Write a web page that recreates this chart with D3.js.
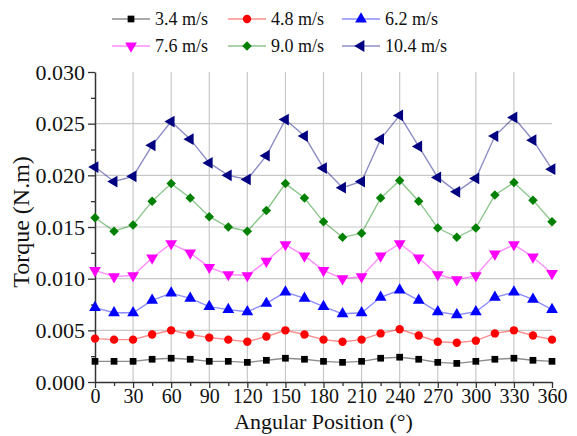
<!DOCTYPE html>
<html>
<head>
<meta charset="utf-8">
<script src="https://cdn.jsdelivr.net/npm/d3@7"></script>
<style>
  body { margin: 0; background: #fff; }
  #vis text { font-family: 'Liberation Serif', 'Times New Roman', Times, serif !important; }
</style>
</head>
<body>
<svg id="vis" width="577" height="436"></svg>
<script>
const FONT = "'Liberation Serif', 'Times New Roman', Times, serif";
const angles = d3.range(0, 361, 15);

const speeds = ['3.4 m/s', '4.8 m/s', '6.2 m/s', '7.6 m/s', '9.0 m/s', '10.4 m/s'];

const torque34 = [0.0020, 0.0020, 0.0020, 0.0022, 0.0023, 0.0022, 0.0020, 0.0020, 0.0019, 0.0021, 0.0023, 0.0022, 0.0020,
    0.0019, 0.0020, 0.0023, 0.0024, 0.0022, 0.0019, 0.0018, 0.0020, 0.0022, 0.0023, 0.0021, 0.0020];
const torque48 = [0.0042, 0.0041, 0.0041, 0.0046, 0.0050, 0.0046, 0.0043, 0.0041, 0.0039, 0.0044, 0.0050, 0.0046, 0.0041,
    0.0039, 0.0041, 0.0047, 0.0051, 0.0045, 0.0039, 0.0038, 0.0040, 0.0047, 0.0050, 0.0045, 0.0041];
const torque62 = [0.0072, 0.0067, 0.0067, 0.0079, 0.0086, 0.0081, 0.0073, 0.0070, 0.0068, 0.0076, 0.0087, 0.0081, 0.0073,
    0.0066, 0.0067, 0.0082, 0.0089, 0.0079, 0.0068, 0.0065, 0.0068, 0.0082, 0.0087, 0.0080, 0.0070];
const torque76 = [0.0108, 0.0102, 0.0103, 0.0120, 0.0134, 0.0125, 0.0111, 0.0104, 0.0103, 0.0117, 0.0133, 0.0122, 0.0108,
    0.0100, 0.0102, 0.0122, 0.0134, 0.0120, 0.0104, 0.0099, 0.0103, 0.0124, 0.0133, 0.0121, 0.0105];
const torque90 = [0.0159, 0.0146, 0.0152, 0.0175, 0.0192, 0.0178, 0.0160, 0.0150, 0.0146, 0.0166, 0.0192, 0.0178, 0.0155,
    0.0140, 0.0144, 0.0178, 0.0195, 0.0175, 0.0149, 0.0140, 0.0149, 0.0181, 0.0193, 0.0176, 0.0155];
const torque104 = [0.0208, 0.0194, 0.0199, 0.0229, 0.0252, 0.0235, 0.0212, 0.0200, 0.0196, 0.0219, 0.0254, 0.0238, 0.0207,
    0.0188, 0.0194, 0.0235, 0.0258, 0.0228, 0.0198, 0.0184, 0.0197, 0.0238, 0.0256, 0.0234, 0.0206];

const xTicks = d3.range(0, 361, 30);
const yTicks = [0, 0.005, 0.010, 0.015, 0.020, 0.025, 0.030];

const series = [
    {name: speeds[0], values: torque34, colour: '#000000', shape: d3.symbolSquare, rot: 0},
    {name: speeds[1], values: torque48, colour: '#ff0000', shape: d3.symbolCircle, rot: 0},
    {name: speeds[2], values: torque62, colour: '#0000ff', shape: d3.symbolTriangle, rot: 0},
    {name: speeds[3], values: torque76, colour: '#ff00ff', shape: d3.symbolTriangle, rot: 180},
    {name: speeds[4], values: torque90, colour: '#008000', shape: d3.symbolSquare, rot: 45},
    {name: speeds[5], values: torque104, colour: '#000080', shape: d3.symbolTriangle, rot: -90}
];

const svg = d3.select('#vis');
const plotLeft = 95, plotRight = 552, plotTop = 72, plotBottom = 382;

const x = d3.scaleLinear().domain([0, 360]).range([plotLeft, plotRight]);
const y = d3.scaleLinear().domain([0, 0.030]).range([plotBottom, plotTop]);

// grid (no line on the top edge)
const grid = svg.append('g');
grid.selectAll('line.v').data(xTicks.slice(1, -1)).join('line')
    .attr('x1', d => x(d)).attr('x2', d => x(d))
    .attr('y1', plotTop).attr('y2', plotBottom)
    .attr('stroke', '#c8c8c8').attr('stroke-width', 1.2);
grid.selectAll('line.h').data(yTicks.slice(1, -1)).join('line')
    .attr('x1', plotLeft).attr('x2', plotRight)
    .attr('y1', d => y(d)).attr('y2', d => y(d))
    .attr('stroke', '#c8c8c8').attr('stroke-width', 1.2);

// axes
function styleAxis(g, size) {
    g.attr('font-family', null).attr('font-size', size);
    g.select('.domain').attr('stroke', '#333').attr('stroke-width', 1.5);
    g.selectAll('.tick line').attr('stroke', '#333').attr('stroke-width', 1.3);
    g.selectAll('.tick text').attr('fill', '#111').style('font-family', FONT);
}

const xMinor = svg.append('g').attr('transform', `translate(0,${plotBottom})`)
    .call(d3.axisBottom(x).tickValues(d3.range(15, 360, 30)).tickSize(4).tickFormat('').tickSizeOuter(0));
xMinor.select('.domain').remove();
xMinor.selectAll('.tick line').attr('stroke', '#333').attr('stroke-width', 1.3);

const yMinor = svg.append('g').attr('transform', `translate(${plotLeft},0)`)
    .call(d3.axisLeft(y).tickValues(d3.range(0.0025, 0.03, 0.005)).tickSize(4).tickFormat('').tickSizeOuter(0));
yMinor.select('.domain').remove();
yMinor.selectAll('.tick line').attr('stroke', '#333').attr('stroke-width', 1.3);

const xAxis = svg.append('g').attr('transform', `translate(0,${plotBottom})`)
    .call(d3.axisBottom(x).tickValues(xTicks).tickSize(6).tickSizeOuter(0).tickPadding(1).tickFormat(d3.format('d')));
styleAxis(xAxis, 20);

const yAxis = svg.append('g').attr('transform', `translate(${plotLeft},0)`)
    .call(d3.axisLeft(y).tickValues(yTicks).tickSize(7).tickSizeOuter(0).tickPadding(3).tickFormat(d3.format('.3f')));
styleAxis(yAxis, 22);

// titles
svg.append('text').attr('x', (plotLeft + plotRight) / 2).attr('y', 429)
    .attr('text-anchor', 'middle').style('font-family', FONT).attr('font-size', 22).attr('fill', '#111')
    .text('Angular Position (°)');
svg.append('text').attr('transform', `translate(29,222) rotate(-90)`)
    .attr('text-anchor', 'middle').style('font-family', FONT).attr('font-size', 24).attr('fill', '#111')
    .text('Torque (N.m)');

// series
const line = d3.line().x((d, i) => x(angles[i])).y(d => y(d));

function marker(g, s, cx, cy) {
    const size = s.shape === d3.symbolCircle ? 55 : (s.shape === d3.symbolSquare ? 45 : 60);
    g.append('path')
        .attr('d', d3.symbol().type(s.shape).size(size)())
        .attr('transform', `translate(${cx},${cy}) rotate(${s.rot})`)
        .attr('fill', s.colour);
}

series.forEach(s => {
    const g = svg.append('g');
    g.append('path').datum(s.values).attr('d', line)
        .attr('fill', 'none').attr('stroke', s.colour).attr('stroke-opacity', 0.45).attr('stroke-width', 1.4);
    s.values.forEach((v, i) => marker(g, s, x(angles[i]), y(v)));
});

// legend
const legX = [112, 228, 342];
const legY = [19, 46];
series.forEach((s, i) => {
    const lx = legX[i % 3], ly = legY[Math.floor(i / 3)];
    const g = svg.append('g');
    g.append('line').attr('x1', lx).attr('x2', lx + 38).attr('y1', ly).attr('y2', ly)
        .attr('stroke', s.colour).attr('stroke-opacity', 0.45).attr('stroke-width', 1.4);
    marker(g, s, lx + 19, ly);
    g.append('text').attr('x', lx + 43).attr('y', ly + 6)
        .style('font-family', FONT).attr('font-size', 18).attr('fill', '#111').text(s.name);
});
</script>
</body>
</html>
